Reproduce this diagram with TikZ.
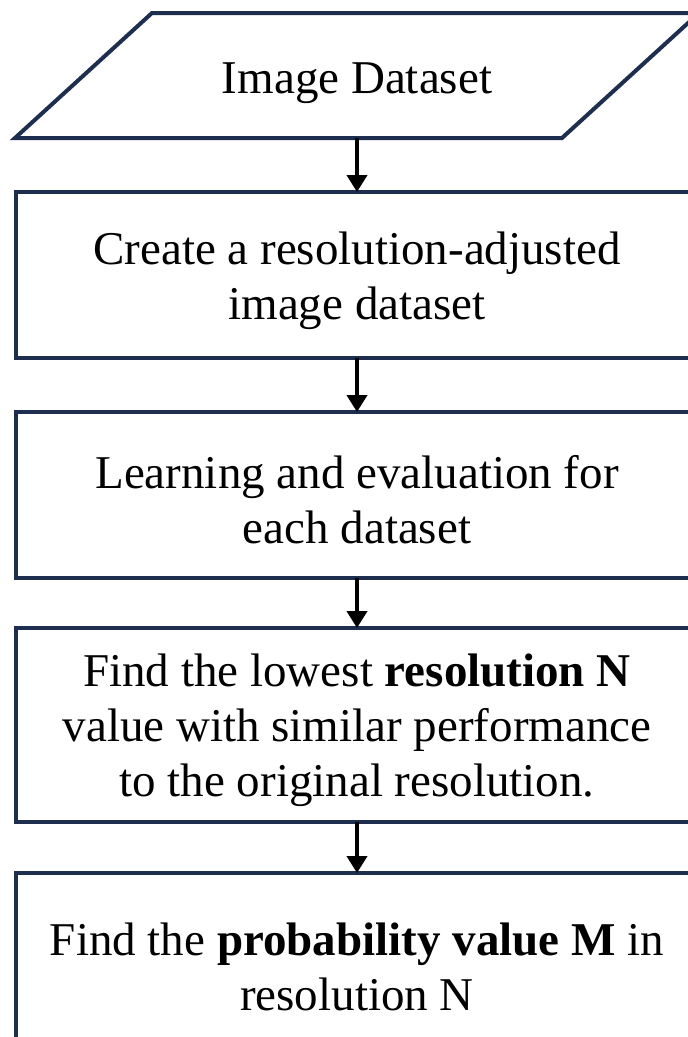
\documentclass[tikz,border=0pt]{standalone}
\usepackage{fontspec}
\setmainfont{Liberation Serif}
\usetikzlibrary{arrows.meta}
\definecolor{navy}{RGB}{30,46,78}
\begin{document}
\begin{tikzpicture}[x=1pt,y=-1pt,
  frame/.style={draw=navy,line width=4pt},
  box/.style={frame,rectangle,minimum width=682pt,inner sep=0pt,outer sep=0pt},
  txt/.style={align=center,inner sep=0pt,font=\fontsize{47}{55}\selectfont},
  link/.style={line width=4pt,-{Triangle[width=20pt,length=17pt]}}]
\useasboundingbox (0,0) rectangle (688,1037);
\clip (0,0) rectangle (688,1037);
\fill[white] (0,0) rectangle (688,1037);

% input (parallelogram)
\draw[frame] (15,138) -- (152,13) -- (699,13) -- (562,138) -- cycle;
\coordinate (dataout) at (357,138);
\node[txt] (data) at (357,83) {Image Dataset};

% process steps
\node[box,minimum height=166pt] (create) at (357,275) {};
\node[txt] (createtxt) at ([yshift=-6pt]create.center)
  {Create a resolution-adjusted\\image dataset};
\node[box,minimum height=166pt] (learn) at (357,495) {};
\node[txt] (learntxt) at ([yshift=-5pt]learn.center)
  {Learning and evaluation for\\each dataset};
\node[box,minimum height=194pt] (lowest) at (357,725) {};
\node[txt] (lowesttxt) at ([yshift=-5pt]lowest.center)
  {Find the lowest \textbf{resolution N}\\value with similar performance\\to the original resolution.};
\node[box,minimum height=178pt] (prob) at (357,962) {};
\node[txt] (probtxt) at ([yshift=-5pt]prob.center)
  {Find the \textbf{probability value M} in\\resolution N};

% flow
\draw[link] (dataout) -- (create.north);
\draw[link] (create.south) -- (learn.north);
\draw[link] (learn.south) -- (lowest.north);
\draw[link] (lowest.south) -- (prob.north);
\end{tikzpicture}
\end{document}
